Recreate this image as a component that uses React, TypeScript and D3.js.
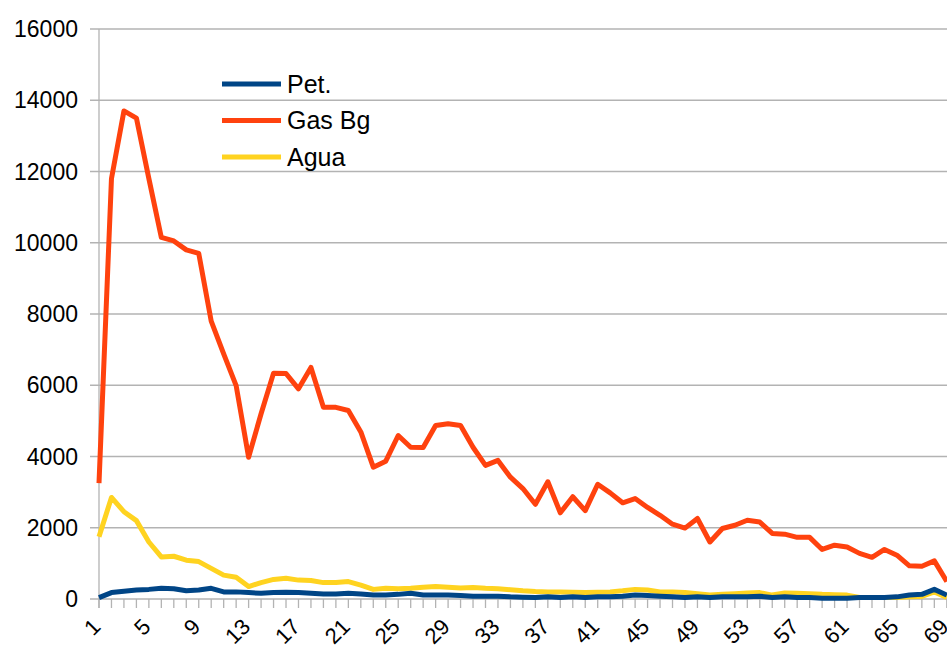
import React, { useRef, useEffect } from "react";
import * as d3 from "d3";

const categories = Array.from({ length: 69 }, (_, i) => String(i + 1));

const petValues = [
  40, 180, 220, 250, 270, 300, 290, 230, 250, 300, 200, 200, 180, 160, 180, 190, 180, 160, 140, 140,
  160, 140, 110, 110, 130, 160, 110, 110, 110, 100, 80, 80, 80, 60, 50, 40, 60, 40, 60, 40,
  60, 60, 80, 110, 100, 80, 60, 40, 60, 40, 60, 60, 60, 80, 40, 60, 40, 40, 20, 20,
  20, 40, 40, 40, 60, 110, 130, 270, 110,
];

const gasValues = [
  3250, 11800, 13700, 13500, 11800, 10150, 10050, 9800, 9700, 7800, 6880, 5990, 3980, 5200, 6340, 6330, 5900, 6500, 5380, 5380,
  5290, 4690, 3700, 3870, 4590, 4260, 4250, 4870, 4920, 4870, 4260, 3750, 3890, 3420, 3100, 2660, 3290, 2420, 2870, 2480,
  3220, 2980, 2700, 2820, 2570, 2350, 2100, 1990, 2260, 1600, 1980, 2070, 2210, 2160, 1840, 1820, 1730, 1730, 1390, 1510,
  1460, 1280, 1170, 1390, 1230, 930, 920, 1070, 490,
];

const aguaValues = [
  1750, 2850, 2450, 2200, 1600, 1180, 1200, 1090, 1050, 860, 670, 610, 350, 460, 550, 580, 530, 520, 460, 460,
  490, 390, 270, 300, 290, 300, 330, 350, 330, 310, 320, 300, 290, 260, 230, 210, 200, 200, 190, 180,
  190, 200, 230, 270, 250, 200, 200, 180, 150, 110, 130, 150, 170, 180, 110, 170, 160, 150, 130, 120,
  110, 40, 40, 40, 40, 60, 70, 200, 40,
];

const seriesNames = ["Pet.", "Gas Bg", "Agua"];
const seriesColors = ["#004586", "#ff420e", "#ffd320"];
const yTicks = [0, 2000, 4000, 6000, 8000, 10000, 12000, 14000, 16000];

const App: React.FC = () => {
  const svgRef = useRef<SVGSVGElement>(null);

  useEffect(() => {
    if (!svgRef.current) return;
    const width = 947;
    const height = 650;
    const left = 99;
    const right = 946.8;
    const top = 29;
    const bottom = 599;

    const svg = d3.select(svgRef.current).attr("width", width).attr("height", height);
    svg.selectAll("*").remove();

    const x = d3.scalePoint<string>().domain(categories).range([left, right]);
    const y = d3.scaleLinear().domain([0, 16000]).range([bottom, top]);

    const font = "'Liberation Sans', Arial, sans-serif";

    // horizontal grid + left tick marks
    svg
      .append("g")
      .selectAll("line")
      .data(yTicks)
      .enter()
      .append("line")
      .attr("x1", left - 9)
      .attr("x2", width)
      .attr("y1", (d) => y(d))
      .attr("y2", (d) => y(d))
      .attr("stroke", "#b3b3b3")
      .attr("stroke-width", 1.3);

    svg
      .append("g")
      .selectAll("text")
      .data(yTicks)
      .enter()
      .append("text")
      .attr("x", 78)
      .attr("y", (d) => y(d))
      .attr("dy", "0.35em")
      .attr("text-anchor", "end")
      .style("font-family", font)
      .style("font-size", "23px")
      .style("fill", "#000")
      .text((d) => String(d));

    // y axis line
    svg
      .append("line")
      .attr("x1", left)
      .attr("x2", left)
      .attr("y1", top)
      .attr("y2", bottom + 9)
      .attr("stroke", "#b3b3b3")
      .attr("stroke-width", 1.3);

    // category ticks
    svg
      .append("g")
      .selectAll("line")
      .data(categories)
      .enter()
      .append("line")
      .attr("x1", (d) => x(d)!)
      .attr("x2", (d) => x(d)!)
      .attr("y1", bottom)
      .attr("y2", bottom + 9)
      .attr("stroke", "#b3b3b3")
      .attr("stroke-width", 1.3);

    svg
      .append("g")
      .selectAll("text")
      .data(categories.filter((_, i) => i % 4 === 0))
      .enter()
      .append("text")
      .attr("transform", (d) => `translate(${x(d)! + 3}, 628) rotate(-45)`)
      .attr("text-anchor", "end")
      .style("font-family", font)
      .style("font-size", "22px")
      .style("fill", "#000")
      .text((d) => d);

    const line = d3
      .line<number>()
      .x((_, i) => x(categories[i])!)
      .y((d) => y(d));

    const allSeries = [petValues, gasValues, aguaValues];
    [2, 1, 0].forEach((si) => {
      svg
        .append("path")
        .datum(allSeries[si])
        .attr("d", line)
        .attr("fill", "none")
        .attr("stroke", seriesColors[si])
        .attr("stroke-width", 5)
        .attr("stroke-linejoin", "round");
    });

    // legend
    const legend = svg.append("g");
    seriesNames.forEach((name, i) => {
      const ly = 84 + i * 36.5;
      legend
        .append("line")
        .attr("x1", 222)
        .attr("x2", 281)
        .attr("y1", ly)
        .attr("y2", ly)
        .attr("stroke", seriesColors[i])
        .attr("stroke-width", 5);
      legend
        .append("text")
        .attr("x", 287)
        .attr("y", ly)
        .attr("dy", "0.35em")
        .style("font-family", font)
        .style("font-size", "25px")
        .style("fill", "#000")
        .text(name);
    });
  }, []);

  return (
    <div style={{ position: "absolute", left: 0, top: 0, background: "#fff" }}>
      <svg ref={svgRef} style={{ display: "block" }}></svg>
    </div>
  );
};

export default App;
